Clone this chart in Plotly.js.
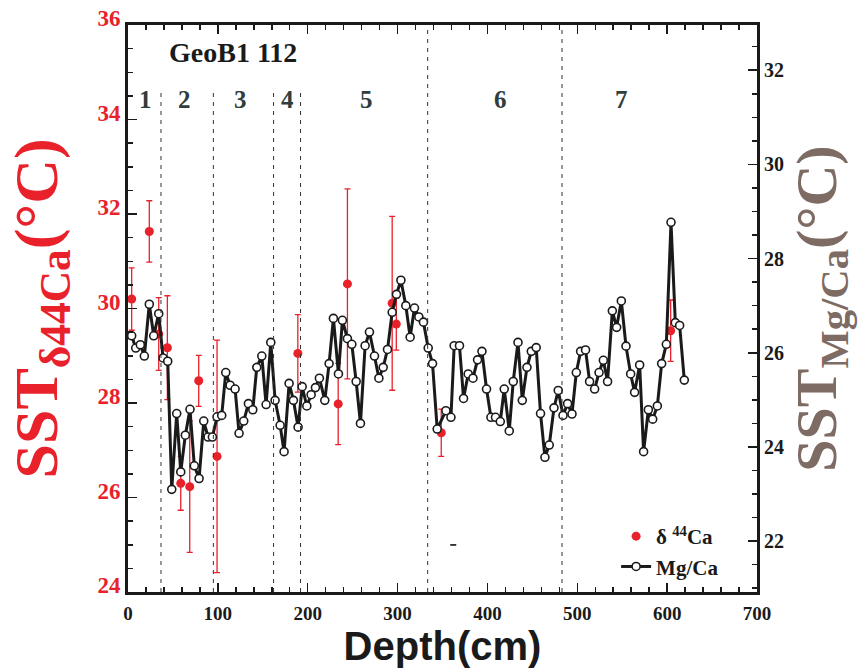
<!DOCTYPE html>
<html>
<head>
<meta charset="utf-8">
<script src="https://cdn.plot.ly/plotly-3.0.1.min.js"></script>
<style>html,body{margin:0;padding:0;background:#fff;}#chart{width:861px;height:669px;}</style>
</head>
<body>
<div id="chart"></div>
<script>
// Mg/Ca SST series (right axis)
const depthMg = [4.1, 8.6, 13.7, 18.2, 23.7, 28.6, 34.2, 39.0, 44.2, 48.7,
  54.2, 58.7, 63.8, 69.0, 73.8, 79.1, 84.3, 89.1, 93.9, 99.1,
  104.3, 108.8, 113.6, 119.2, 123.6, 128.8, 134.0, 138.9, 143.3, 148.9,
  153.7, 158.9, 163.7, 169.3, 173.7, 179.3, 184.1, 189.3, 193.8, 199.0,
  203.8, 208.6, 213.0, 219.0, 223.8, 228.6, 234.2, 238.6, 244.2, 249.1,
  253.9, 258.7, 263.9, 268.7, 274.3, 279.2, 284.0, 288.8, 294.0, 298.8,
  303.7, 309.2, 314.0, 318.8, 323.7, 328.8, 334.1, 338.9, 344.1,
  353.8, 359.4, 363.0, 368.9, 373.4, 378.6, 383.9, 389.0, 393.9, 399.0,
  403.9, 409.0, 414.3, 418.7, 424.3, 428.7, 434.0, 438.8, 444.0, 448.8,
  454.3, 459.1, 464.0, 468.8, 474.1, 478.8, 484.1, 489.2, 494.1, 498.9,
  503.7, 509.2, 513.7, 519.3, 524.2, 529.0, 533.7, 539.0, 543.8, 549.0,
  554.2, 559.4, 563.8, 569.4, 573.8, 579.1, 583.9, 589.1, 593.9, 599.1,
  604.3, 609.1, 613.9, 619.1];
const sstMg = [26.36, 26.10, 26.17, 25.93, 27.03, 26.36, 26.83, 25.89, 25.82, 23.10,
  24.71, 23.47, 24.25, 24.80, 23.60, 23.33, 24.55, 24.21, 24.21, 24.64,
  24.67, 25.58, 25.31, 25.23, 24.29, 24.55, 24.92, 24.79, 25.69, 25.93,
  24.90, 26.22, 24.99, 24.46, 23.90, 25.35, 24.99, 24.42, 25.28, 24.87,
  25.11, 25.26, 25.46, 24.99, 25.77, 26.73, 25.55, 26.69, 26.30, 26.18,
  25.39, 24.50, 26.15, 26.44, 25.93, 25.46, 25.69, 26.07, 26.86, 27.24,
  27.54, 27.00, 26.33, 26.95, 26.76, 26.65, 26.10, 25.77, 24.38,
  24.77, 24.63, 26.15, 26.15, 25.03, 25.55, 25.46, 25.85, 26.03, 25.23,
  24.63, 24.63, 24.54, 25.23, 24.34, 25.39, 26.22, 24.99, 25.69, 26.03,
  26.11, 24.71, 23.78, 24.04, 24.83, 25.20, 24.67, 24.92, 24.70, 25.58,
  26.03, 26.06, 25.39, 25.23, 25.58, 25.84, 25.39, 26.89, 26.54, 27.10,
  26.14, 25.55, 25.16, 25.74, 23.90, 24.79, 24.59, 24.87, 25.77, 26.18,
  28.77, 26.64, 26.58, 25.42];

// δ44Ca SST series (left axis)
const depthCa = [4.1, 23.7, 34.2, 43.8, 58.7, 68.7, 78.7, 99.1, 189.0, 233.9, 244.2, 294.0, 298.6, 348.6, 603.9];
const sstCa   = [30.20, 31.63, 29.46, 29.17, 26.30, 26.23, 28.47, 26.87, 29.05, 27.98, 30.52, 30.11, 29.67, 27.37, 29.53];
const errCa   = [0.66, 0.65, 0.77, 1.10, 0.57, 1.39, 0.54, 2.46, 0.82, 0.86, 2.01, 1.84, 0.55, 0.50, 0.65];

// Zones
const zoneBounds = [36.7, 95, 162, 192, 333.5, 483];
const zoneLabels = ['1', '2', '3', '4', '5', '6', '7'];
const zoneLabelX = [20, 63, 125, 177, 265, 415, 549];

const RED = '#e8212b';
const serif = 'Liberation Serif, Times New Roman, serif';
const sans = 'Liberation Sans, Arial, sans-serif';

const traces = [
  {
    x: depthMg, y: sstMg, yaxis: 'y2', type: 'scatter', mode: 'lines+markers',
    name: 'Mg/Ca', legendgroup: 'b', legendrank: 2,
    line: {color: '#1a1a1a', width: 3},
    marker: {symbol: 'circle', size: 8, color: '#ffffff', line: {color: '#1a1a1a', width: 1.6}}
  },
  {
    x: depthCa, y: sstCa, type: 'scatter', mode: 'markers',
    name: 'δ <sup>44</sup>Ca', legendgroup: 'a', legendrank: 1,
    marker: {symbol: 'circle', size: 9, color: RED},
    error_y: {type: 'data', array: errCa, visible: true, color: RED, thickness: 1.3, width: 3}
  }
];

const shapes = zoneBounds.map((b, i) => ({
  type: 'line', xref: 'x', yref: 'paper', x0: b, x1: b,
  y0: 0, y1: (i < 4) ? 0.888 : 0.995,
  line: {color: '#333333', width: 1, dash: '4px,5px'}
}));
shapes.push({type: 'line', xref: 'x', yref: 'paper', x0: 358.6, x1: 365.3, y0: 0.083, y1: 0.083,
  line: {color: '#000', width: 1.5}});

const annotations = zoneLabels.map((t, i) => ({
  text: t, xref: 'x', yref: 'paper', x: zoneLabelX[i], y: 0.868, yanchor: 'middle', xanchor: 'center',
  showarrow: false,
  font: {family: serif, size: 25, color: '#2f3d3d', weight: 700}
}));
annotations.push({
  text: 'GeoB1 112', xref: 'x', yref: 'paper', x: 117, y: 0.952, yanchor: 'middle', xanchor: 'center',
  showarrow: false,
  font: {family: serif, size: 28, color: '#1a1a1a', weight: 700}
});

const layout = {
  width: 861, height: 669,
  margin: {l: 128, r: 104, t: 25, b: 77},
  paper_bgcolor: '#fff', plot_bgcolor: '#fff',
  showlegend: true,
  legend: {
    x: 0.776, y: 0.134, xanchor: 'left', yanchor: 'top',
    bgcolor: 'rgba(0,0,0,0)', traceorder: 'grouped', tracegroupgap: 0,
    font: {family: serif, size: 21, color: '#1a1a1a', weight: 700}
  },
  xaxis: {
    range: [0, 700], dtick: 100, tick0: 0,
    showgrid: false, zeroline: false,
    showline: true, linecolor: '#1a1a1a', linewidth: 3, mirror: 'ticks',
    ticks: 'inside', ticklen: 9, tickwidth: 1.5, tickcolor: '#1a1a1a',
    minor: {dtick: 20, ticks: 'inside', ticklen: 5, tickwidth: 1.5, tickcolor: '#1a1a1a'},
    tickfont: {family: serif, size: 19, color: '#1a1a1a', weight: 700},
    ticklabelstandoff: 2,
    title: {text: 'Depth(cm)', standoff: 5, font: {family: sans, size: 40, color: '#1a1a1a', weight: 700}}
  },
  yaxis: {
    range: [24, 36], dtick: 2, tick0: 24,
    showgrid: false, zeroline: false,
    showline: true, linecolor: '#1a1a1a', linewidth: 3, mirror: true,
    ticks: 'inside', ticklen: 9, tickwidth: 1.5, tickcolor: '#1a1a1a',
    minor: {dtick: 0.5, ticks: 'inside', ticklen: 5, tickwidth: 1.5, tickcolor: '#1a1a1a'},
    tickfont: {family: serif, size: 23, color: RED, weight: 700},
    ticklabelshift: -7,
    title: {text: 'SST<sub>δ44Ca</sub>(°C)', standoff: 20, font: {family: serif, size: 62, color: RED, weight: 700}}
  },
  yaxis2: {
    range: [20.92, 32.96], dtick: 2, tick0: 22,
    overlaying: 'y', side: 'right',
    showgrid: false, zeroline: false,
    showline: true, linecolor: '#1a1a1a', linewidth: 3,
    ticks: 'inside', ticklen: 9, tickwidth: 1.5, tickcolor: '#1a1a1a',
    minor: {dtick: 0.5, ticks: 'inside', ticklen: 5, tickwidth: 1.5, tickcolor: '#1a1a1a'},
    tickfont: {family: serif, size: 20, color: '#1a1a1a', weight: 700},
    title: {text: 'SST<sub>Mg/Ca</sub>(°C)', standoff: 8, font: {family: serif, size: 58, color: '#7d6b64', weight: 700}}
  },
  shapes: shapes,
  annotations: annotations
};

Plotly.newPlot('chart', traces, layout, {displayModeBar: false, staticPlot: true});
</script>
</body>
</html>
